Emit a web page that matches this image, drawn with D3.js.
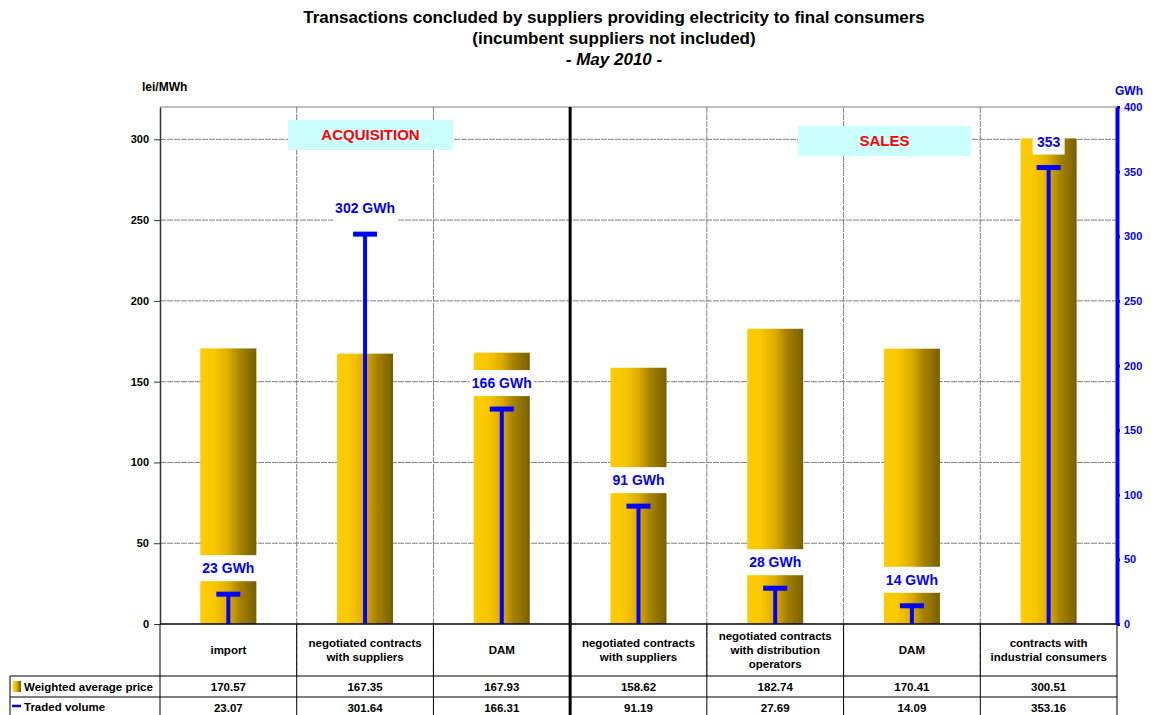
<!DOCTYPE html>
<html>
<head>
<meta charset="utf-8">
<script src="https://cdn.jsdelivr.net/npm/d3@7"></script>
<style>
  body { margin: 0; background: #fff; }
  svg { font-family: "Liberation Sans", Arial, sans-serif; }
</style>
</head>
<body>
<div id="chart-area"></div>
<script>
// data
let categories = [
  ["import"],
  ["negotiated contracts", "with suppliers"],
  ["DAM"],
  ["negotiated contracts", "with suppliers"],
  ["negotiated contracts", "with distribution", "operators"],
  ["DAM"],
  ["contracts with", "industrial consumers"]
]
let priceValues = [170.57, 167.35, 167.93, 158.62, 182.74, 170.41, 300.51]
let volumeValues = [23.07, 301.64, 166.31, 91.19, 27.69, 14.09, 353.16]
let volumeLabels = ["23 GWh", "302 GWh", "166 GWh", "91 GWh", "28 GWh", "14 GWh", "353"]
let priceTicks = [0, 50, 100, 150, 200, 250, 300]
let volumeTicks = [0, 50, 100, 150, 200, 250, 300, 350, 400]

let width = 1151
let height = 715
let plot = {left: 160, right: 1117, top: 107, bottom: 624}
let rowY = [624, 676, 697, 718]

let svg = d3.select("#chart-area").append("svg")
  .attr("width", width)
  .attr("height", height)

// bar gradient
let grad = svg.append("defs").append("linearGradient")
  .attr("id", "barGrad")
  .attr("x1", "0%").attr("x2", "100%")
  .attr("y1", "0%").attr("y2", "0%")
grad.append("stop").attr("offset", "0%").attr("stop-color", "#ffcc00")
grad.append("stop").attr("offset", "25%").attr("stop-color", "#fac800")
grad.append("stop").attr("offset", "50%").attr("stop-color", "#dcac00")
grad.append("stop").attr("offset", "70%").attr("stop-color", "#a88300")
grad.append("stop").attr("offset", "100%").attr("stop-color", "#786000")

let x = d3.scaleBand()
  .domain(d3.range(categories.length))
  .range([plot.left, plot.right])

let yL = d3.scaleLinear().domain([0, 320]).range([plot.bottom, plot.top])
let yR = d3.scaleLinear().domain([0, 400]).range([plot.bottom, plot.top])

// title
let title = svg.append("g").attr("text-anchor", "middle").attr("font-weight", "bold")
title.append("text").attr("x", 614).attr("y", 23).attr("font-size", "17px")
  .text("Transactions concluded by suppliers providing electricity to final consumers")
title.append("text").attr("x", 614).attr("y", 44).attr("font-size", "17px")
  .text("(incumbent suppliers not included)")
title.append("text").attr("x", 614).attr("y", 65).attr("font-size", "17px")
  .attr("font-style", "italic")
  .text("- May 2010 -")

// horizontal grid
svg.append("g").selectAll("line")
  .data(priceTicks.slice(1))
  .enter().append("line")
    .attr("x1", plot.left).attr("x2", plot.right)
    .attr("y1", d => yL(d)).attr("y2", d => yL(d))
    .attr("stroke", "#808080")
    .attr("stroke-dasharray", "6,1")
svg.append("line")
  .attr("x1", plot.left).attr("x2", plot.right)
  .attr("y1", plot.top).attr("y2", plot.top)
  .attr("stroke", "#808080")

// vertical grid at category boundaries
svg.append("g").selectAll("line")
  .data(d3.range(1, categories.length))
  .enter().append("line")
    .attr("x1", d => x(d)).attr("x2", d => x(d))
    .attr("y1", plot.top).attr("y2", rowY[1])
    .attr("stroke", d => d === 3 ? "none" : "#808080")
    .attr("stroke-dasharray", "6,1")

// section boxes
let sections = [
  {name: "ACQUISITION", x: 288, y: 120, w: 165, h: 30},
  {name: "SALES", x: 798, y: 126, w: 173, h: 30}
]
sections.forEach(s => {
  svg.append("rect").attr("x", s.x).attr("y", s.y).attr("width", s.w).attr("height", s.h)
    .attr("fill", "#ccffff")
  svg.append("text").attr("x", s.x + s.w / 2).attr("y", s.y + s.h / 2 + 5)
    .attr("text-anchor", "middle").attr("font-size", "15px").attr("font-weight", "bold")
    .attr("fill", "#ff0000").text(s.name)
})

// price bars
let barW = 56
svg.append("g").selectAll("rect")
  .data(priceValues)
  .enter().append("rect")
    .attr("x", (d, i) => x(i) + x.bandwidth() / 2 - barW / 2)
    .attr("y", d => yL(d))
    .attr("width", barW)
    .attr("height", d => plot.bottom - yL(d))
    .attr("fill", "url(#barGrad)")

// volume labels with white boxes
let labels = svg.append("g")
volumeValues.forEach((v, i) => {
  let cx = x(i) + x.bandwidth() / 2
  let cy = yR(v) - 26
  let w = volumeLabels[i].length > 4 ? 64 : 32
  labels.append("rect").attr("x", cx - w / 2).attr("y", cy - 13)
    .attr("width", w).attr("height", 26).attr("fill", "#fff")
  labels.append("text").attr("x", cx).attr("y", cy + 5)
    .attr("text-anchor", "middle").attr("font-size", "14px").attr("font-weight", "bold")
    .attr("fill", "#0000ff").text(volumeLabels[i])
})

// volume T marks
let vol = svg.append("g")
vol.selectAll(".stem")
  .data(volumeValues)
  .enter().append("line")
    .attr("class", "stem")
    .attr("x1", (d, i) => x(i) + x.bandwidth() / 2)
    .attr("x2", (d, i) => x(i) + x.bandwidth() / 2)
    .attr("y1", plot.bottom)
    .attr("y2", d => yR(d))
    .attr("stroke", "#0000ff").attr("stroke-width", 4)
vol.selectAll(".cap")
  .data(volumeValues)
  .enter().append("line")
    .attr("class", "cap")
    .attr("x1", (d, i) => x(i) + x.bandwidth() / 2 - 12)
    .attr("x2", (d, i) => x(i) + x.bandwidth() / 2 + 12)
    .attr("y1", d => yR(d))
    .attr("y2", d => yR(d))
    .attr("stroke", "#0000ff").attr("stroke-width", 5)

// left axis
let leftAxis = svg.append("g")
  .attr("transform", "translate(" + plot.left + ",0)")
  .call(d3.axisLeft(yL).tickValues(priceTicks).tickSize(6).tickSizeOuter(0).tickPadding(5))
leftAxis.select(".domain").attr("stroke", "#333").attr("stroke-width", 1.5)
leftAxis.selectAll(".tick line").attr("stroke", "#333")
leftAxis.selectAll("text").attr("font-size", "11px").attr("font-weight", "bold")
  .attr("font-family", "Liberation Sans, Arial, sans-serif")
svg.append("text").attr("x", 142).attr("y", 91).attr("font-size", "12px")
  .attr("font-weight", "bold").text("lei/MWh")

// right axis
let rightAxis = svg.append("g")
  .attr("transform", "translate(" + plot.right + ",0)")
  .call(d3.axisRight(yR).tickValues(volumeTicks).tickSize(3).tickSizeOuter(0).tickPadding(4))
rightAxis.select(".domain").attr("stroke", "#0000ff").attr("stroke-width", 4)
rightAxis.selectAll(".tick line").attr("stroke", "#0000ff").attr("stroke-width", 3)
rightAxis.selectAll("text").attr("font-size", "11px").attr("font-weight", "bold")
  .attr("fill", "#0000ff").attr("font-family", "Liberation Sans, Arial, sans-serif")
svg.append("text").attr("x", 1129).attr("y", 95).attr("text-anchor", "middle")
  .attr("font-size", "12px").attr("font-weight", "bold").attr("fill", "#0000ff").text("GWh")

// data table
let table = svg.append("g").attr("stroke", "#000").attr("stroke-width", 1)
table.append("line").attr("x1", plot.left).attr("x2", plot.right)
  .attr("y1", rowY[0]).attr("y2", rowY[0]).attr("stroke-width", 1.5)
rowY.slice(1, 3).forEach(y => {
  table.append("line").attr("x1", 10).attr("x2", plot.right).attr("y1", y).attr("y2", y)
})
table.append("line").attr("x1", 10).attr("x2", 10).attr("y1", rowY[1]).attr("y2", height)
table.append("line").attr("x1", plot.left).attr("x2", plot.left).attr("y1", rowY[0]).attr("y2", height)
d3.range(1, categories.length + 1).forEach(i => {
  let bx = i < categories.length ? x(i) : plot.right
  table.append("line").attr("x1", bx).attr("x2", bx)
    .attr("y1", i === 3 ? plot.top : rowY[0]).attr("y2", height)
    .attr("stroke-width", i === 3 ? 3 : 1)
})

let cells = svg.append("g").attr("text-anchor", "middle").attr("font-size", "11.5px")
  .attr("font-weight", "bold")
categories.forEach((lines, i) => {
  let cx = x(i) + x.bandwidth() / 2
  let startY = (rowY[0] + rowY[1]) / 2 - (lines.length - 1) * 7 + 4
  lines.forEach((l, j) => {
    cells.append("text").attr("x", cx).attr("y", startY + j * 14).text(l)
  })
  cells.append("text").attr("x", cx).attr("y", rowY[1] + 15).text(priceValues[i].toFixed(2))
  cells.append("text").attr("x", cx).attr("y", rowY[2] + 15).text(volumeValues[i].toFixed(2))
})

// legend keys in table
svg.append("rect").attr("x", 13).attr("y", 681).attr("width", 8).attr("height", 11)
  .attr("fill", "url(#barGrad)")
svg.append("line").attr("x1", 12).attr("x2", 21).attr("y1", 706).attr("y2", 706)
  .attr("stroke", "#0000ff").attr("stroke-width", 2.5)
svg.append("text").attr("x", 24).attr("y", 691).attr("font-size", "11.5px")
  .attr("font-weight", "bold").text("Weighted average price")
svg.append("text").attr("x", 24).attr("y", 711).attr("font-size", "11.5px")
  .attr("font-weight", "bold").text("Traded volume")
</script>
</body>
</html>
